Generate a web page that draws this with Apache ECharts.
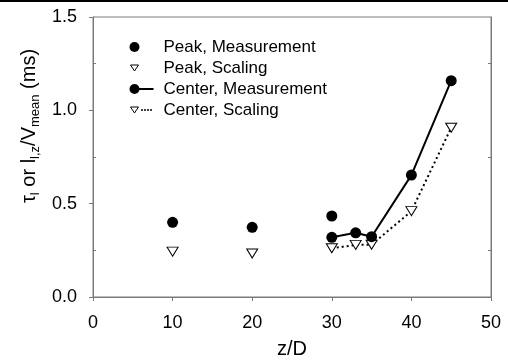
<!DOCTYPE html>
<html>
<head>
<meta charset="utf-8">
<script src="https://cdn.jsdelivr.net/npm/echarts@6/dist/echarts.min.js"></script>
<style>
  html, body { margin: 0; padding: 0; background: #fff; }
  #chart { width: 508px; height: 364px; }
</style>
</head>
<body>
<div id="chart"></div>
<script>
// values, [z/D, time in ms]
const peakMeasurement = [[10, 0.40], [20, 0.373], [30, 0.434]];
const peakScaling = [[10, 0.243], [20, 0.233]];
const centerMeasurement = [[30, 0.32], [33, 0.344], [35, 0.323], [40, 0.653], [45, 1.159]];
const centerScaling = [[30, 0.261], [33, 0.279], [35, 0.28], [40, 0.46], [45, 0.907]];

const xTickLabels = ["0", "10", "20", "30", "40", "50"];
const yTickLabels = ["0.0", "0.5", "1.0", "1.5"];

const FONT = "'Liberation Sans', Arial, sans-serif";
const AXIS_COLOR = "#7a7a7a";

// legend icons, drawn in a 29x10 box
const ICON_CIRCLE = "path://M0,5A5,5 0 1,1 10,5A5,5 0 1,1 0,5Z M29,0 M29,10";
const ICON_TRI = "path://M1,2L9,2L5,8Z M0,0 M29,10";
const ICON_CIRCLE_LINE = "path://M0,5A5,5 0 1,1 10,5A5,5 0 1,1 0,5Z M8,4L24,4L24,6L8,6Z M29,0 M29,10";
const ICON_TRI_DOTS =
  "path://M1,2L9,2L5,8Z M12,4.5h1v1h-1Z M15,4.5h1v1h-1Z M18,4.5h1v1h-1Z M21,4.5h1v1h-1Z M0,0 M29,10";

const chart = echarts.init(document.getElementById("chart"), null, { renderer: "canvas" });

const axisLine = { show: true, lineStyle: { color: AXIS_COLOR, width: 1 } };
const tickLine = { color: AXIS_COLOR, width: 1 };

function minorAxis(position, showLine) {
  return {
    type: "value",
    position,
    min: 0,
    max: 1.5,
    interval: 0.5,
    axisLine: { show: showLine, lineStyle: { color: AXIS_COLOR } },
    axisTick: { show: false, inside: true },
    minorTick: { show: true, splitNumber: 2, length: 3, lineStyle: tickLine },
    axisLabel: { show: false },
    splitLine: { show: false },
  };
}

chart.setOption({
  animation: false,
  backgroundColor: "#fff",
  grid: {
    left: 93, right: 17, top: 17, bottom: 67,
    show: true, borderColor: AXIS_COLOR, borderWidth: 1,
  },
  legend: {
    orient: "vertical",
    left: 129,
    top: 37,
    padding: 0,
    itemWidth: 29,
    itemHeight: 10,
    itemGap: 1,
    selectedMode: false,
    textStyle: { fontFamily: FONT, fontSize: 17, color: "#000", lineHeight: 20 },
    data: [
      { name: "Peak, Measurement", icon: ICON_CIRCLE, itemStyle: { color: "#000", borderWidth: 0, opacity: 1 } },
      { name: "Peak, Scaling", icon: ICON_TRI, itemStyle: { color: "#fff", borderColor: "#000", borderWidth: 1, opacity: 1 } },
      { name: "Center, Measurement", icon: ICON_CIRCLE_LINE, itemStyle: { color: "#000", borderWidth: 0, opacity: 1 } },
      { name: "Center, Scaling", icon: ICON_TRI_DOTS, itemStyle: { color: "#fff", borderColor: "#000", borderWidth: 1, opacity: 1 } },
    ],
  },
  xAxis: {
    type: "value",
    min: 0,
    max: 50,
    interval: 10,
    name: "z/D",
    nameLocation: "middle",
    nameGap: 42,
    nameTextStyle: { fontFamily: FONT, fontSize: 20, color: "#000" },
    axisLine,
    axisTick: { show: true, length: 4, lineStyle: tickLine },
    axisLabel: {
      margin: 17,
      fontFamily: FONT,
      fontSize: 18,
      color: "#000",
      formatter: (v) => xTickLabels[Math.round(v / 10)],
    },
    splitLine: { show: false },
  },
  yAxis: [
    {
      type: "value",
      position: "left",
      min: 0,
      max: 1.5,
      interval: 0.5,
      axisLine,
      axisTick: { show: true, length: 4, lineStyle: tickLine },
      axisLabel: {
        margin: 16,
        fontFamily: FONT,
        fontSize: 18,
        color: "#000",
        formatter: (v) => yTickLabels[Math.round(v / 0.5)],
      },
      splitLine: { show: false },
    },
    minorAxis("left", false),
    minorAxis("right", true),
  ],
  graphic: [
    { type: "rect", shape: { x: 0, y: 0, width: 508, height: 2 }, style: { fill: "#000" } },
    {
      type: "text",
      x: 29,
      y: 126,
      rotation: Math.PI / 2,
      style: {
        text: "{n|τ}{s|l}{n| or l}{s|l,z}{n|/V}{s|mean}{n| (ms)}",
        align: "center",
        verticalAlign: "middle",
        fill: "#000",
        rich: {
          n: { fontFamily: FONT, fontSize: 20, lineHeight: 26, fill: "#000" },
          s: { fontFamily: FONT, fontSize: 13, lineHeight: 13, verticalAlign: "bottom", fill: "#000" },
        },
      },
    },
  ],
  series: [
    {
      name: "Peak, Measurement",
      type: "scatter",
      data: peakMeasurement,
      symbol: "circle",
      symbolSize: 11,
      itemStyle: { color: "#000", opacity: 1 },
    },
    {
      name: "Peak, Scaling",
      type: "scatter",
      data: peakScaling,
      symbol: "triangle",
      symbolRotate: 180,
      symbolSize: [11, 9],
      itemStyle: { color: "#fff", borderColor: "#000", borderWidth: 1, opacity: 1 },
    },
    {
      name: "Center, Scaling",
      type: "line",
      data: centerScaling,
      symbol: "triangle",
      symbolRotate: 180,
      symbolSize: [11, 9],
      z: 2,
      lineStyle: { color: "#000", width: 2, type: [2, 3] },
      itemStyle: { color: "#fff", borderColor: "#000", borderWidth: 1 },
    },
    {
      name: "Center, Measurement",
      type: "line",
      data: centerMeasurement,
      symbol: "circle",
      symbolSize: 11,
      z: 3,
      lineStyle: { color: "#000", width: 2 },
      itemStyle: { color: "#000" },
    },
  ],
});
</script>
</body>
</html>
